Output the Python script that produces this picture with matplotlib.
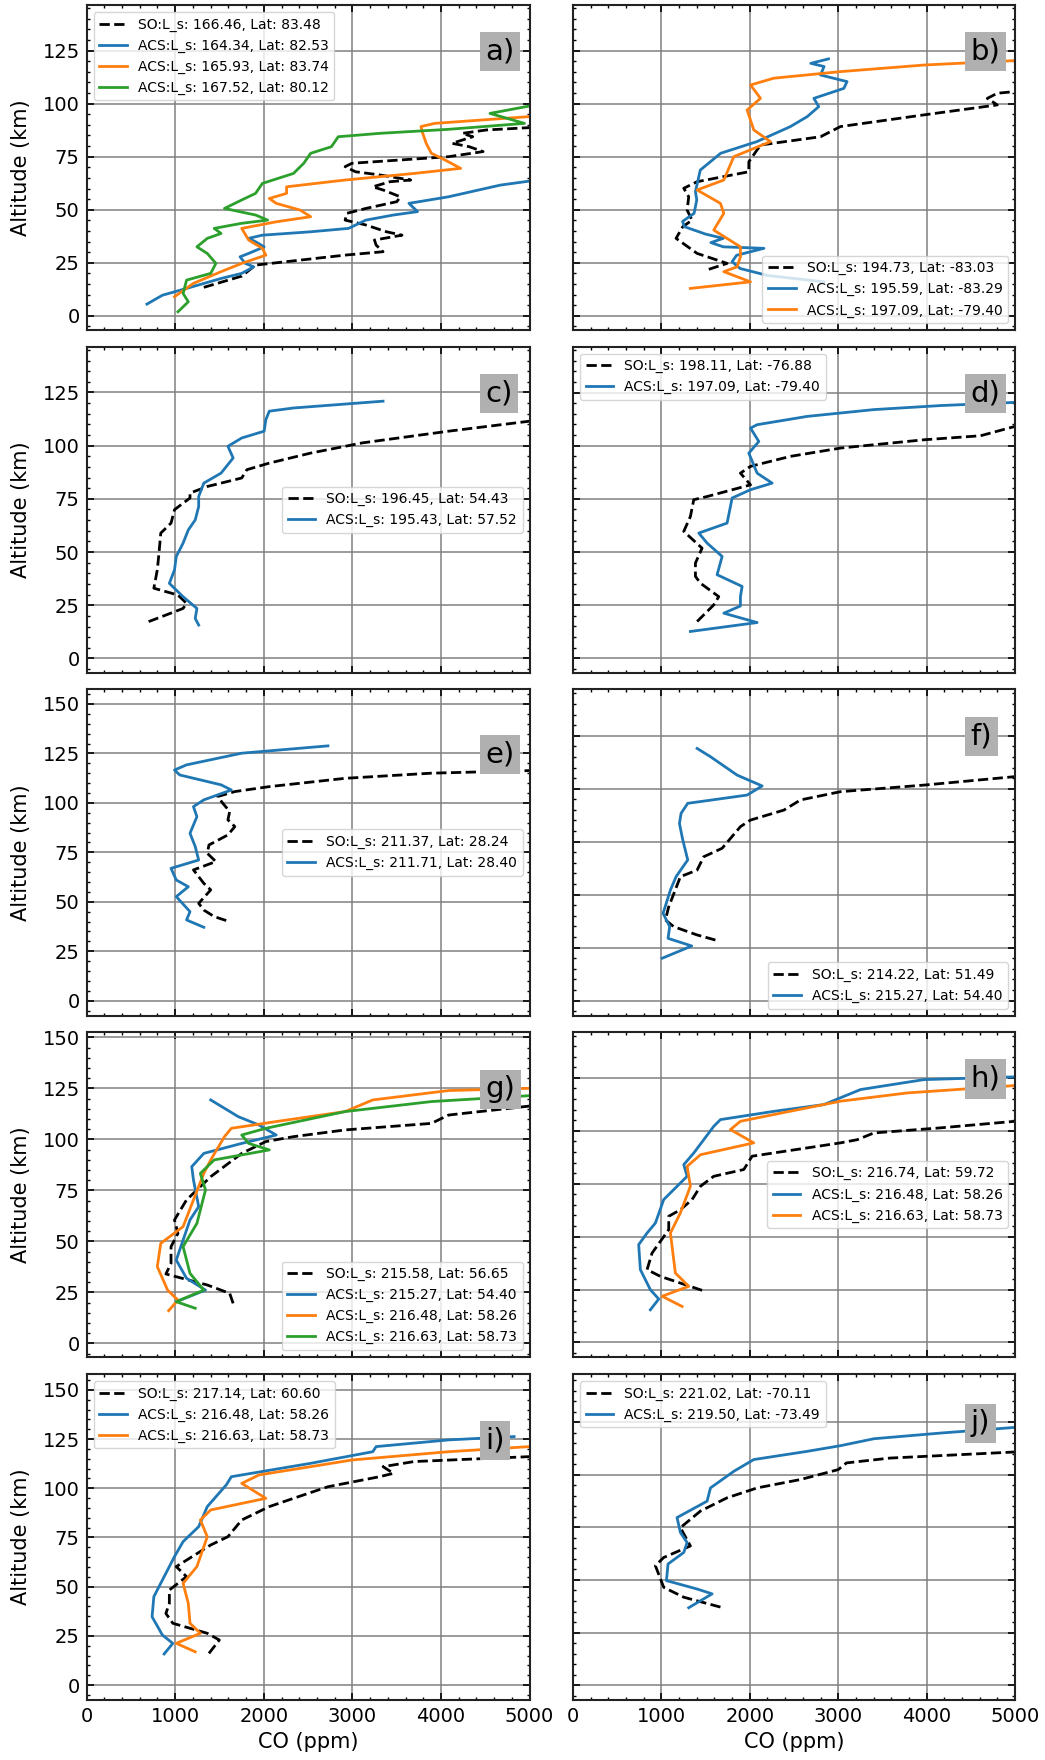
import matplotlib
matplotlib.use("Agg")
import matplotlib.pyplot as plt
from matplotlib.ticker import MultipleLocator, AutoMinorLocator

# ---- panel a) ----
a_so_co = [1323, 1751, 1907, 2918, 3346, 3268, 3249, 3560, 3385, 3152, 2918, 2938, 3152, 3502, 3541, 3346,
           3230, 3424, 3658, 3307, 3035, 2918, 2996, 4086, 4475, 4319, 4125, 4358, 4241, 4514, 5000, 6000]
a_so_alt = [13.4, 18.7, 23.9, 28.6, 30.2, 33.3, 35.7, 38.0, 39.6, 42.8, 45.1, 48.3, 50.6, 53.8, 56.1, 59.3,
            60.8, 63.2, 64.0, 66.4, 67.9, 70.3, 71.9, 75.0, 77.4, 79.7, 81.3, 84.4, 86.0, 87.6, 88.7, 90.5]
a_acs1_co = [681, 856, 1128, 1518, 1751, 1887, 1790, 1732, 1829, 2004, 1907, 1829, 1984, 2529, 2957, 3152,
             3463, 3735, 3638, 4086, 4669, 5000, 6000]
a_acs1_alt = [5.5, 9.7, 12.9, 17.6, 20.0, 23.1, 24.7, 27.8, 29.4, 32.5, 34.9, 36.5, 38.0, 39.6, 41.2, 45.1,
              47.5, 49.1, 53.0, 56.1, 61.6, 63.5, 66.0]
a_acs2_co = [992, 1206, 1518, 1751, 2023, 1984, 1829, 1751, 2140, 2529, 2412, 2140, 2062, 2257, 2257, 2918,
             3697, 4222, 4047, 3891, 3833, 3794, 3774, 3930, 5000, 6000]
a_acs2_alt = [9.0, 15.3, 20.8, 24.7, 28.6, 31.8, 35.7, 41.2, 44.3, 46.7, 49.8, 53.0, 55.3, 57.7, 60.8, 64.0,
              67.1, 69.5, 73.4, 76.6, 81.3, 86.0, 89.2, 90.7, 93.9, 95.5]
a_acs3_co = [1031, 1148, 1089, 1128, 1401, 1459, 1362, 1245, 1362, 1518, 1440, 1751, 2043, 1907, 1556, 1751,
             1907, 1984, 2335, 2451, 2529, 2763, 2840, 3307, 4086, 4942, 4553, 5000, 6000]
a_acs3_alt = [1.9, 6.6, 10.5, 16.8, 20.0, 24.7, 29.4, 32.5, 36.5, 38.8, 41.2, 43.6, 45.1, 47.5, 50.6, 54.6,
              57.7, 62.4, 67.1, 71.9, 76.6, 79.7, 84.4, 86.0, 87.9, 90.7, 95.4, 98.9, 101.0]
a_labels = ["SO:L_s: 166.46, Lat: 83.48", "ACS:L_s: 164.34, Lat: 82.53",
            "ACS:L_s: 165.93, Lat: 83.74", "ACS:L_s: 167.52, Lat: 80.12"]

# ---- panel b) ----
b_so_co = [1536, 1743, 1404, 1166, 1242, 1347, 1291, 1309, 1253, 1404, 1989, 1989, 2121, 2800, 3026, 3970,
           4800, 4687, 4800, 5000, 6000]
b_so_alt = [21.9, 24.7, 29.4, 36.5, 42.0, 45.1, 49.8, 56.1, 60.1, 63.2, 67.9, 72.6, 80.5, 84.4, 89.2, 94.7,
            99.4, 102.5, 104.9, 105.7, 107.0]
b_acs1_co = [2838, 2200, 1890, 1800, 1850, 2160, 1700, 1560, 1700, 1500, 1260, 1240, 1370, 1400, 1385, 1440,
             1670, 2080, 2460, 2650, 2780, 2725, 3064, 3100, 2800, 2840, 2690, 2890]
b_acs1_alt = [16.0, 19.0, 22.3, 25.5, 28.5, 31.8, 32.5, 34.5, 36.5, 38.5, 42.0, 44.5, 48.3, 54.6, 58.5, 68.7,
              76.6, 82.1, 89.2, 93.9, 98.6, 102.5, 107.2, 110.4, 113.5, 117.5, 119.0, 121.1]
b_acs2_co = [1328, 2008, 1706, 1857, 1894, 1894, 1592, 1706, 1668, 1404, 1706, 1819, 2234, 2045, 1970, 2121,
             2008, 2272, 3026, 3970, 5000, 6000]
b_acs2_alt = [12.9, 16.0, 20.8, 23.1, 27.8, 32.5, 40.4, 48.3, 53.0, 59.3, 64.0, 75.0, 82.1, 87.6, 97.0, 102.5,
              108.8, 112.0, 115.1, 118.2, 120.3, 121.0]
b_labels = ["SO:L_s: 194.73, Lat: -83.03", "ACS:L_s: 195.59, Lat: -83.29", "ACS:L_s: 197.09, Lat: -79.40"]

# ---- panel c) ----
c_so_co = [700, 895, 1089, 1128, 1031, 759, 798, 817, 837, 953, 992, 1167, 1167, 1362, 1751, 1809, 2062,
           2529, 3113, 4086, 5000, 6000]
c_so_alt = [17.3, 20.4, 23.5, 25.9, 29.8, 33.0, 41.6, 49.5, 58.9, 63.6, 69.9, 75.4, 77.7, 80.8, 84.8, 88.7,
            91.8, 96.5, 101.3, 106.8, 111.5, 114.0]
c_acs1_co = [1265, 1226, 1245, 1089, 934, 992, 1012, 1089, 1148, 1226, 1265, 1265, 1323, 1518, 1654, 1595,
             1751, 2004, 2023, 2062, 2335, 3346]
c_acs1_alt = [15.7, 18.8, 23.5, 29.0, 35.3, 41.6, 47.9, 54.2, 60.4, 65.1, 71.4, 76.1, 82.4, 87.1, 94.2, 99.7,
              103.6, 106.8, 112.2, 116.2, 117.7, 120.9]
c_labels = ["SO:L_s: 196.45, Lat: 54.43", "ACS:L_s: 195.43, Lat: 57.52"]

# ---- panel d) ----
d_so_co = [1404, 1592, 1649, 1442, 1385, 1385, 1460, 1253, 1328, 1366, 1517, 2008, 1894, 2008, 2460, 3026,
           3970, 4611, 5000, 6000]
d_so_alt = [17.3, 25.1, 29.0, 35.3, 38.5, 44.8, 51.8, 59.7, 66.7, 74.6, 76.1, 81.6, 87.1, 90.3, 95.0, 98.9,
            102.8, 104.7, 109.1, 113.0]
d_acs1_co = [1328, 2083, 1706, 1894, 1894, 1913, 1630, 1687, 1517, 1423, 1743, 1781, 1800, 2008, 2253, 2083,
             1989, 2102, 2008, 2083, 2649, 3404, 4158, 5000, 6000]
d_acs1_alt = [12.6, 16.8, 21.2, 24.6, 29.0, 33.8, 39.3, 47.9, 54.2, 58.9, 63.6, 71.4, 75.4, 79.3, 82.4, 87.1,
              96.5, 102.0, 108.3, 109.9, 113.8, 117.0, 118.9, 120.4, 121.3]
d_labels = ["SO:L_s: 198.11, Lat: -76.88", "ACS:L_s: 197.09, Lat: -79.40"]

# ---- panel e) ----
e_so_co = [1576, 1440, 1323, 1265, 1401, 1323, 1206, 1459, 1362, 1381, 1595, 1673, 1595, 1615, 1537, 1479,
           1673, 2062, 2918, 3891, 5000, 6000]
e_so_alt = [40.5, 42.5, 45.8, 49.2, 56.0, 59.3, 66.1, 70.3, 74.5, 78.7, 83.8, 88.0, 91.4, 95.6, 99.8, 103.2,
            105.7, 108.2, 112.4, 115.0, 116.3, 117.0]
e_acs1_co = [1323, 1128, 1167, 1012, 1148, 1012, 953, 1265, 1226, 1167, 1245, 1206, 1323, 1634, 1518, 1051,
             992, 1128, 1751, 2724]
e_acs1_alt = [37.1, 40.8, 45.0, 52.6, 57.6, 61.0, 66.9, 71.1, 77.9, 84.6, 93.0, 98.1, 101.5, 106.5, 109.1,
              114.1, 116.6, 119.2, 125.1, 128.8]
e_labels = ["SO:L_s: 211.37, Lat: 28.24", "ACS:L_s: 211.71, Lat: 28.40"]

# ---- panel f) ----
f_so_co = [1611, 1404, 1140, 1045, 1083, 1215, 1404, 1479, 1687, 1894, 2008, 2385, 2574, 3026, 3970, 5000, 6000]
f_so_alt = [28.6, 31.0, 34.9, 38.1, 44.3, 58.5, 61.6, 67.9, 71.9, 82.1, 85.2, 89.9, 94.7, 98.6, 101.7, 105.7,
            109.0]
f_acs1_co = [1008, 1343, 1075, 1094, 1019, 1102, 1166, 1298, 1242, 1204, 1223, 1298, 1970, 2140, 1857, 1555, 1404]
f_acs1_alt = [20.0, 25.8, 29.4, 34.9, 41.2, 52.2, 58.5, 66.4, 75.8, 83.6, 88.4, 93.1, 97.0, 101.3, 106.4,
              115.1, 119.0]
f_labels = ["SO:L_s: 214.22, Lat: 51.49", "ACS:L_s: 215.27, Lat: 54.40"]

# ---- panel g) ----
g_so_co = [1654, 1615, 1362, 895, 953, 953, 1031, 992, 1128, 1401, 1751, 2023, 2335, 2918, 3891, 4086, 5000, 6000]
g_so_alt = [19.6, 24.5, 28.6, 34.0, 39.2, 47.4, 53.9, 60.5, 70.3, 81.7, 93.1, 98.9, 101.3, 104.6, 107.8,
            111.9, 116.3, 118.0]
g_acs1_co = [1012, 1342, 1128, 1012, 1051, 1167, 1265, 1206, 1187, 1323, 1751, 2140, 1946, 1712, 1401]
g_acs1_alt = [20.4, 26.1, 31.9, 40.8, 45.8, 60.5, 67.0, 80.1, 86.6, 93.1, 98.0, 102.1, 107.0, 111.1, 119.3]
g_acs2_co = [926, 1031, 914, 798, 837, 1089, 1206, 1323, 1401, 1556, 1634, 2140, 2918, 3230, 4086, 5000, 6000]
g_acs2_alt = [16.0, 21.2, 26.1, 37.6, 49.0, 57.2, 70.3, 83.3, 89.9, 101.3, 105.4, 108.7, 113.6, 119.3,
              123.9, 125.0, 126.0]
g_acs3_co = [1226, 1012, 1323, 1167, 1089, 1245, 1342, 1284, 1440, 2062, 1829, 1751, 2023, 2918, 3891, 5000, 6000]
g_acs3_alt = [17.2, 20.4, 26.1, 34.3, 47.4, 58.8, 75.2, 83.3, 89.9, 94.8, 98.0, 102.1, 105.4, 113.6,
              118.5, 121.4, 122.5]
g_labels = ["SO:L_s: 215.58, Lat: 56.65", "ACS:L_s: 215.27, Lat: 54.40",
            "ACS:L_s: 216.48, Lat: 58.26", "ACS:L_s: 216.63, Lat: 58.73"]

# ---- panel h) ----
h_so_co = [1460, 989, 838, 894, 1083, 1083, 1215, 1347, 1442, 1592, 1932, 2026, 3026, 3215, 3404, 4158, 5000, 6000]
h_so_alt = [24.6, 31.2, 34.4, 42.2, 53.3, 59.6, 62.7, 67.5, 73.8, 78.5, 81.7, 88.0, 94.3, 95.8, 99.0,
            101.4, 104.5, 107.0]
h_acs1_co = [875, 970, 875, 762, 743, 838, 932, 1026, 1291, 1253, 1366, 1592, 1668, 2272, 2838, 3253, 3970,
             5000, 6000]
h_acs1_alt = [15.4, 20.5, 24.9, 34.4, 46.2, 51.7, 56.4, 67.5, 78.5, 84.0, 89.5, 102.1, 105.3, 109.2, 112.4,
              119.5, 124.2, 125.5, 126.5]
h_acs2_co = [1234, 1008, 1309, 1158, 1102, 1215, 1328, 1291, 1442, 2045, 1781, 1894, 2272, 3026, 3781, 5000, 6000]
h_acs2_alt = [17.0, 21.8, 26.5, 32.8, 51.7, 61.2, 73.8, 83.2, 88.7, 94.3, 100.6, 104.5, 107.7, 114.0,
              117.9, 121.4, 123.0]
h_labels = ["SO:L_s: 216.74, Lat: 59.72", "ACS:L_s: 216.48, Lat: 58.26", "ACS:L_s: 216.63, Lat: 58.73"]

# ---- panel i) ----
i_so_co = [1381, 1498, 1362, 973, 895, 934, 934, 1128, 1012, 1401, 1595, 1751, 2062, 2335, 2724, 3307, 3463,
           3346, 3697, 5000, 6000]
i_so_alt = [16.1, 22.9, 26.3, 31.4, 36.4, 41.5, 48.3, 55.1, 60.2, 71.2, 75.4, 83.9, 90.7, 94.9, 100.8,
            105.9, 107.6, 111.0, 113.6, 116.1, 117.0]
i_acs1_co = [875, 973, 856, 739, 759, 817, 992, 1089, 1265, 1362, 1576, 1634, 2529, 3230, 3268, 4086, 4825]
i_acs1_alt = [15.8, 21.2, 25.4, 34.7, 44.9, 50.0, 65.3, 72.9, 80.5, 90.7, 101.7, 105.9, 112.7, 118.6,
              121.2, 124.6, 126.3]
i_acs2_co = [1226, 1012, 1284, 1167, 1148, 1089, 1245, 1362, 1284, 1401, 2023, 1751, 1946, 2529, 2996, 4086,
             5000, 6000]
i_acs2_alt = [16.9, 21.2, 26.3, 31.4, 41.5, 51.7, 60.2, 75.4, 83.9, 89.0, 94.9, 102.5, 106.8, 111.0, 114.4,
              118.6, 121.2, 122.0]
i_labels = ["SO:L_s: 217.14, Lat: 60.60", "ACS:L_s: 216.48, Lat: 58.26", "ACS:L_s: 216.63, Lat: 58.73"]

# ---- panel j) ----
j_so_co = [1668, 1253, 1026, 932, 1026, 1328, 1215, 1442, 1743, 2083, 2574, 3000, 3094, 3585, 5000, 6000]
j_so_alt = [37.1, 41.8, 46.5, 56.8, 60.7, 66.2, 74.9, 82.8, 89.1, 93.8, 97.8, 102.5, 105.7, 108.0, 110.9, 112.0]
j_acs1_co = [1309, 1574, 1404, 1057, 1075, 1253, 1291, 1215, 1177, 1517, 1555, 1819, 2045, 2649, 3026, 3404,
             4158, 5000, 6000]
j_acs1_alt = [36.8, 43.4, 45.7, 49.7, 57.6, 63.1, 67.8, 72.6, 79.7, 87.5, 93.8, 101.7, 107.3, 111.2, 113.9,
              117.2, 119.9, 122.6, 123.5]
j_labels = ["SO:L_s: 221.02, Lat: -70.11", "ACS:L_s: 219.50, Lat: -73.49"]

panel_names = ["a)", "b)", "c)", "d)", "e)", "f)", "g)", "h)", "i)", "j)"]
acs_colors = ["tab:blue", "tab:orange", "tab:green"]

panels = [
    (a_so_co, a_so_alt, [(a_acs1_co, a_acs1_alt), (a_acs2_co, a_acs2_alt), (a_acs3_co, a_acs3_alt)], a_labels, "upper left"),
    (b_so_co, b_so_alt, [(b_acs1_co, b_acs1_alt), (b_acs2_co, b_acs2_alt)], b_labels, "lower right"),
    (c_so_co, c_so_alt, [(c_acs1_co, c_acs1_alt)], c_labels, "center right"),
    (d_so_co, d_so_alt, [(d_acs1_co, d_acs1_alt)], d_labels, "upper left"),
    (e_so_co, e_so_alt, [(e_acs1_co, e_acs1_alt)], e_labels, "center right"),
    (f_so_co, f_so_alt, [(f_acs1_co, f_acs1_alt)], f_labels, "lower right"),
    (g_so_co, g_so_alt, [(g_acs1_co, g_acs1_alt), (g_acs2_co, g_acs2_alt), (g_acs3_co, g_acs3_alt)], g_labels, "lower right"),
    (h_so_co, h_so_alt, [(h_acs1_co, h_acs1_alt), (h_acs2_co, h_acs2_alt)], h_labels, "center right"),
    (i_so_co, i_so_alt, [(i_acs1_co, i_acs1_alt), (i_acs2_co, i_acs2_alt)], i_labels, "upper left"),
    (j_so_co, j_so_alt, [(j_acs1_co, j_acs1_alt)], j_labels, "upper left"),
]

# y limits per panel (left column rows 3-5 reach 150)
y_low = [-6.7, -6.7, -6.7, -6.8, -7.6, -7.1, -6.7, -6.9, -7.6, -7.1]
y_high = [146.5, 146.5, 146.5, 146.6, 157.4, 146.9, 152.6, 146.7, 158.1, 148.0]

W, H = 1045, 1760
fig = plt.figure(figsize=(W / 100, H / 100), dpi=100)

col_px = [(86.6, 443.0), (573.0, 442.0)]
row_px = [(5, 330), (346.7, 672.7), (689.3, 1015.7), (1032, 1357), (1374, 1700)]

for k, (so_co, so_alt, acs, labels, loc) in enumerate(panels):
    row, col = k // 2, k % 2
    x0, w = col_px[col]
    top, bot = row_px[row]
    ax = fig.add_axes([x0 / W, 1 - bot / H, w / W, (bot - top) / H])

    ax.plot(so_co, so_alt, "k--", lw=2, label=labels[0])
    for n, (co, alt) in enumerate(acs):
        ax.plot(co, alt, color=acs_colors[n], lw=2, label=labels[n + 1])

    ax.set_xlim(0, 5000)
    ax.set_ylim(y_low[k], y_high[k])
    ax.xaxis.set_major_locator(MultipleLocator(1000))
    ax.xaxis.set_minor_locator(AutoMinorLocator(5))
    ax.yaxis.set_major_locator(MultipleLocator(25))
    ax.yaxis.set_minor_locator(AutoMinorLocator(5))
    ax.tick_params(which="both", direction="in", top=True, right=True, labelsize=14, pad=5)
    ax.tick_params(which="major", length=5, width=1.2)
    ax.tick_params(which="minor", length=2.5, width=1)
    ax.grid(True, which="major", color="gray", lw=1.1)
    ax.set_axisbelow(True)
    for s in ax.spines.values():
        s.set_linewidth(1.5)
        s.set_color("#222222")

    if col == 0:
        ax.set_ylabel("Altitude (km)", fontsize=15, labelpad=8)
    else:
        ax.tick_params(labelleft=False)
    if row == 4:
        ax.set_xlabel("CO (ppm)", fontsize=15)
    else:
        ax.tick_params(labelbottom=False)

    ax.text(4500, 124.5, panel_names[k], fontsize=21, va="center", ha="left", zorder=6,
            bbox=dict(facecolor="#b0b0b0", edgecolor="none", pad=4))
    leg = ax.legend(loc=loc, fontsize=10)
    leg.set_zorder(10)

fig.savefig("out.png", dpi=100)
